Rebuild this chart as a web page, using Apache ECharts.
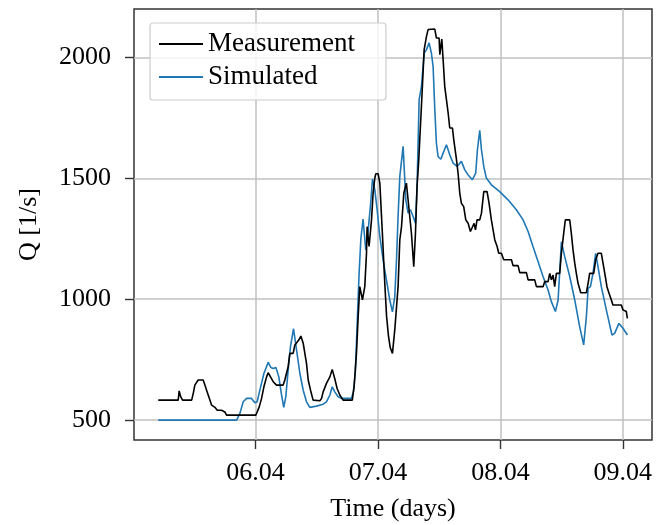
<!DOCTYPE html>
<html>
<head>
<meta charset="utf-8">
<script src="https://cdn.jsdelivr.net/npm/echarts@6/dist/echarts.min.js"></script>
<style>
  html, body { margin: 0; padding: 0; background: #fff; }
  #chart { width: 656px; height: 525px; }
</style>
</head>
<body>
<div id="chart"></div>
<script>
// time in days (5.5 = 05.04 12:00), flow in l/s
var measTime = [5.205, 5.368, 5.376, 5.388, 5.404, 5.478, 5.491, 5.504, 5.531, 5.572, 5.586, 5.600, 5.613, 5.627, 5.641, 5.668, 5.687, 5.722, 5.749, 5.763,
    6.002, 6.013, 6.030, 6.049, 6.068, 6.090, 6.103, 6.122, 6.144, 6.171, 6.225, 6.239, 6.266, 6.280, 6.307, 6.321, 6.335, 6.353, 6.370, 6.389,
    6.416, 6.430, 6.449, 6.470, 6.525, 6.539, 6.552, 6.579, 6.607, 6.626, 6.647, 6.666, 6.688, 6.715, 6.790, 6.805, 6.824, 6.838, 6.851, 6.873,
    6.892, 6.906, 6.911, 6.927, 6.947, 6.960, 6.974, 6.982, 7.001, 7.015, 7.035, 7.055, 7.070, 7.085, 7.100, 7.118, 7.137, 7.151, 7.164, 7.178,
    7.192, 7.211, 7.232, 7.254, 7.273, 7.292, 7.306, 7.319, 7.333, 7.347, 7.360, 7.377, 7.396, 7.409, 7.464, 7.477, 7.499, 7.505, 7.518, 7.521,
    7.532, 7.545, 7.559, 7.573, 7.586, 7.608, 7.619, 7.641, 7.654, 7.668, 7.681, 7.700, 7.717, 7.736, 7.755, 7.771, 7.785, 7.796, 7.809, 7.831,
    7.845, 7.864, 7.891, 7.907, 7.926, 7.940, 7.954, 7.973, 7.986, 8.008, 8.027, 8.090, 8.103, 8.144, 8.158, 8.212, 8.226, 8.280, 8.294, 8.348,
    8.362, 8.389, 8.403, 8.416, 8.430, 8.443, 8.457, 8.484, 8.498, 8.517, 8.530, 8.566, 8.579, 8.593, 8.607, 8.620, 8.634, 8.656, 8.702, 8.716,
    8.729, 8.762, 8.778, 8.797, 8.824, 8.838, 8.857, 8.870, 8.887, 8.906, 8.919, 8.987, 9.001, 9.028, 9.037];
var measFlow = [583, 583, 621, 597, 583, 583, 611, 645, 666, 666, 645, 624, 604, 583, 562, 553, 541, 541, 534, 521,
    521, 534, 555, 590, 638, 679, 696, 679, 659, 645, 645, 666, 721, 776, 776, 811, 811, 831, 848, 818,
    735, 666, 624, 583, 580, 590, 617, 652, 679, 710, 671, 631, 604, 583, 583, 640, 776, 928, 1052, 997,
    1052, 1190, 1300, 1218, 1328, 1439, 1501, 1519, 1519, 1480, 1280, 1070, 930, 850, 800, 776, 873, 880, 1052, 1245,
    1300, 1439, 1480, 1369, 1273, 1135, 1273, 1466, 1577, 1577, 1853, 2032, 2087, 2115, 2117, 2080, 2080, 2011, 2011, 2076,
    1990, 1880, 1825, 1770, 1708, 1708, 1659, 1577, 1521, 1438, 1397, 1383, 1328, 1314, 1280, 1280, 1314, 1287, 1328, 1328,
    1356, 1445, 1445, 1397, 1328, 1287, 1245, 1218, 1190, 1190, 1163, 1163, 1139, 1139, 1110, 1110, 1080, 1080, 1052, 1052,
    1073, 1073, 1107, 1080, 1100, 1052, 1107, 1107, 1190, 1273, 1328, 1328, 1273, 1204, 1149, 1107, 1066, 1027, 1027, 1066,
    1107, 1107, 1163, 1190, 1190, 1149, 1093, 1052, 1025, 997, 976, 976, 956, 949, 921];

var simTime = [5.205, 5.845, 5.872, 5.899, 5.927, 5.967, 5.994, 6.013, 6.035, 6.068, 6.103, 6.125, 6.144, 6.166, 6.190, 6.210, 6.230, 6.247, 6.266, 6.285,
    6.310, 6.335, 6.362, 6.389, 6.416, 6.443, 6.497, 6.552, 6.579, 6.607, 6.626, 6.647, 6.674, 6.701, 6.783, 6.800, 6.815, 6.830, 6.845, 6.860,
    6.878, 6.900, 6.920, 6.940, 6.955, 6.974, 6.993, 7.015, 7.042, 7.069, 7.096, 7.118, 7.137, 7.151, 7.164, 7.178, 7.205, 7.227, 7.246, 7.265,
    7.287, 7.306, 7.319, 7.336, 7.355, 7.377, 7.396, 7.417, 7.436, 7.450, 7.464, 7.477, 7.491, 7.513, 7.532, 7.559, 7.586, 7.613, 7.646, 7.681,
    7.709, 7.736, 7.771, 7.798, 7.812, 7.831, 7.845, 7.864, 7.885, 7.926, 7.994, 8.062, 8.130, 8.185, 8.226, 8.266, 8.307, 8.348, 8.389, 8.416,
    8.449, 8.471, 8.498, 8.525, 8.566, 8.607, 8.647, 8.680, 8.702, 8.716, 8.735, 8.756, 8.778, 8.797, 8.824, 8.865, 8.911, 8.933, 8.968, 9.001, 9.037];
var simFlow = [500, 500, 528, 576, 590, 590, 572, 576, 624, 693, 739, 718, 714, 718, 679, 611, 553, 597, 707, 804,
    878, 790, 693, 624, 576, 553, 558, 566, 576, 604, 638, 617, 597, 590, 590, 620, 700, 900, 1100, 1250,
    1331, 1204, 1287, 1397, 1497, 1452, 1370, 1259, 1162, 1080, 997, 948, 1011, 1162, 1342, 1507, 1632, 1411, 1356, 1370,
    1342, 1314, 1466, 1825, 1880, 2018, 2032, 2060, 2018, 1963, 1784, 1645, 1590, 1579, 1604, 1639, 1597, 1563, 1549, 1570,
    1535, 1514, 1494, 1521, 1618, 1698, 1618, 1549, 1501, 1473, 1445, 1411, 1370, 1328, 1280, 1218, 1156, 1094, 1038, 990,
    949, 997, 1238, 1176, 1094, 997, 887, 811, 928, 1045, 1052, 1107, 1190, 1135, 1052, 956, 852, 859, 900, 880, 852];

var xTicks = [6, 7, 8, 9];
var xTickLabels = ['06.04', '07.04', '08.04', '09.04'];
var yTicks = [500, 1000, 1500, 2000];

function pairs(t, v) {
    var out = [];
    for (let i = 0; i < t.length; i++) {
        out.push([t[i], v[i]]);
    }
    return out;
}

var font = '"Liberation Serif", "DejaVu Serif", serif';

var myChart = echarts.init(document.getElementById('chart'));
var option = {
    animation: false,
    backgroundColor: '#fff',
    grid: {
        left: 134, right: 4, top: 9, bottom: 85,
        show: true, borderColor: '#333', borderWidth: 1.5,
        outerBoundsMode: 'none'
    },
    legend: {
        orient: 'vertical',
        left: 150, top: 23,
        padding: [6, 31, 8, 9],
        itemGap: 3,
        itemWidth: 44,
        itemHeight: 2,
        icon: 'rect',
        backgroundColor: 'rgba(255,255,255,0.8)',
        borderColor: '#cccccc',
        borderWidth: 1.2,
        borderRadius: 3,
        textStyle: { fontFamily: font, fontSize: 27, color: '#000', lineHeight: 30 },
        data: ['Measurement', 'Simulated']
    },
    xAxis: {
        type: 'value',
        min: 5.007, max: 9.238,
        name: 'Time (days)',
        nameLocation: 'middle',
        nameGap: 56,
        nameTextStyle: { fontFamily: font, fontSize: 26, color: '#000' },
        axisLine: { show: false },
        axisTick: { show: true, length: 9, customValues: xTicks, lineStyle: { color: '#333', width: 1.4 } },
        axisLabel: {
            customValues: xTicks,
            margin: 20,
            fontFamily: font, fontSize: 26, color: '#000',
            formatter: function (v) {
                var i = xTicks.indexOf(Math.round(v));
                return i >= 0 ? xTickLabels[i] : '';
            }
        },
        splitLine: { show: true, lineStyle: { color: '#c0c0c0', width: 1.5 } }
    },
    yAxis: {
        type: 'value',
        min: 418, max: 2200,
        name: 'Q [1/s]',
        nameLocation: 'middle',
        nameRotate: 90,
        nameGap: 92,
        nameTextStyle: { fontFamily: font, fontSize: 26, color: '#000' },
        axisLine: { show: false },
        axisTick: { show: true, length: 9, customValues: yTicks, lineStyle: { color: '#333', width: 1.4 } },
        axisLabel: {
            customValues: yTicks,
            margin: 23,
            fontFamily: font, fontSize: 26, color: '#000',
            formatter: function (v) {
                return String(Math.round(v));
            }
        },
        splitLine: { show: true, lineStyle: { color: '#c0c0c0', width: 1.5 } }
    },
    series: [
        {
            name: 'Measurement',
            type: 'line',
            data: pairs(measTime, measFlow),
            showSymbol: false,
            symbol: 'none',
            color: '#000000',
            lineStyle: { color: '#000000', width: 1.6 },
            z: 3
        },
        {
            name: 'Simulated',
            type: 'line',
            data: pairs(simTime, simFlow),
            showSymbol: false,
            symbol: 'none',
            color: '#1f77b4',
            lineStyle: { color: '#1f77b4', width: 1.6 },
            z: 2
        }
    ]
};
myChart.setOption(option);
</script>
</body>
</html>
